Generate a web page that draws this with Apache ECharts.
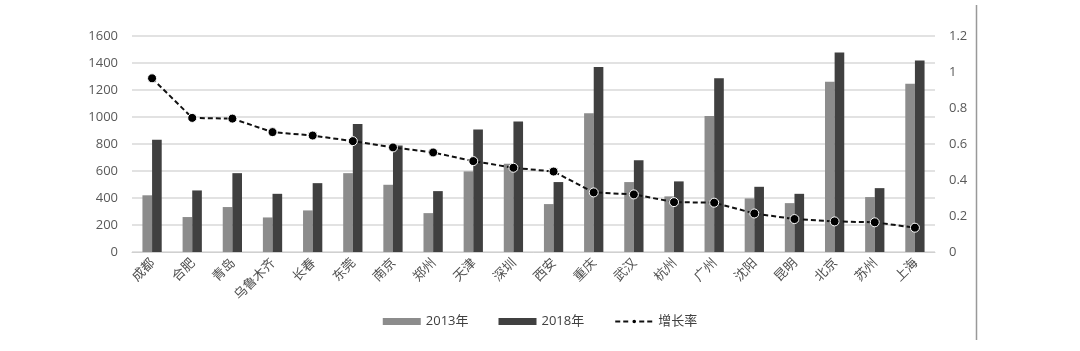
<!DOCTYPE html>
<html><head><meta charset="utf-8">
<script src="https://cdn.jsdelivr.net/npm/echarts@6/dist/echarts.min.js"></script>
<style>html,body{margin:0;padding:0;background:#fff}#c{width:1080px;height:351px}</style>
</head><body><div id="c"></div>
<script>
const cities = ['成都','合肥','青岛','乌鲁木齐','长春','东莞','南京','郑州','天津','深圳','西安','重庆','武汉','杭州','广州','沈阳','昆明','北京','苏州','上海'];
const v2013 = [420,259,333,256,308,584,498,288,597,653,355,1028,518,412,1008,397,362,1262,407,1247];
const v2018 = [831,456,584,431,510,949,789,451,907,966,518,1371,680,523,1287,483,431,1477,473,1418];
const growth = [0.965,0.745,0.741,0.666,0.647,0.616,0.581,0.553,0.505,0.468,0.447,0.331,0.320,0.277,0.274,0.214,0.183,0.170,0.165,0.135];
const leftTicks = {min:0,max:1600,interval:200};
const rightTicks = {min:0,max:1.2,interval:0.2};

const chart = echarts.init(document.getElementById('c'));
const lbl = {color:'#595959', fontSize:13, fontFamily:'"Open Sans", "Noto Sans", sans-serif'};
chart.setOption({
  animation:false,
  grid:{left:132,right:145,top:36,bottom:99},
  legend:{
    bottom:18, left:'center', itemGap:30, itemWidth:38, itemHeight:7,
    textStyle:{color:'#404040', fontSize:13, fontFamily:'"Open Sans", "Noto Sans CJK SC", sans-serif'},
    data:[{name:'2013年',icon:'rect'},{name:'2018年',icon:'rect'},{name:'增长率'}]
  },
  xAxis:{
    type:'category', data:cities,
    axisLine:{show:true,lineStyle:{color:'#d0d0d0'}},
    axisTick:{show:false},
    axisLabel:{rotate:45, interval:0, color:'#505050', fontSize:13, fontFamily:'"Noto Sans CJK SC", sans-serif', margin:8}
  },
  yAxis:[
    {type:'value', ...leftTicks, axisLine:{show:false}, axisTick:{show:false},
     splitLine:{lineStyle:{color:'#d9d9d9',width:1.5}}, axisLabel:{...lbl, margin:14, formatter:v=>String(v)}},
    {type:'value', ...rightTicks, position:'right', axisLine:{show:false}, axisTick:{show:false},
     splitLine:{show:false}, axisLabel:{...lbl, margin:14, formatter:v=>String(+v.toFixed(1))}}
  ],
  series:[
    {name:'2013年', type:'bar', data:v2013, barGap:'0%', barCategoryGap:'52%', itemStyle:{color:'#8c8c8c'}},
    {name:'2018年', type:'bar', data:v2018, itemStyle:{color:'#404040'}},
    {name:'增长率', type:'line', yAxisIndex:1, data:growth, symbol:'circle', symbolSize:9,
     lineStyle:{color:'#111',width:2,type:[5,3]},
     itemStyle:{color:'#000',borderColor:'#fff',borderWidth:1}, z:5}
  ],
  graphic:[{type:'line', shape:{x1:976.5,y1:5,x2:976.5,y2:340}, style:{stroke:'#999',lineWidth:1.5}}]
});
</script></body></html>
